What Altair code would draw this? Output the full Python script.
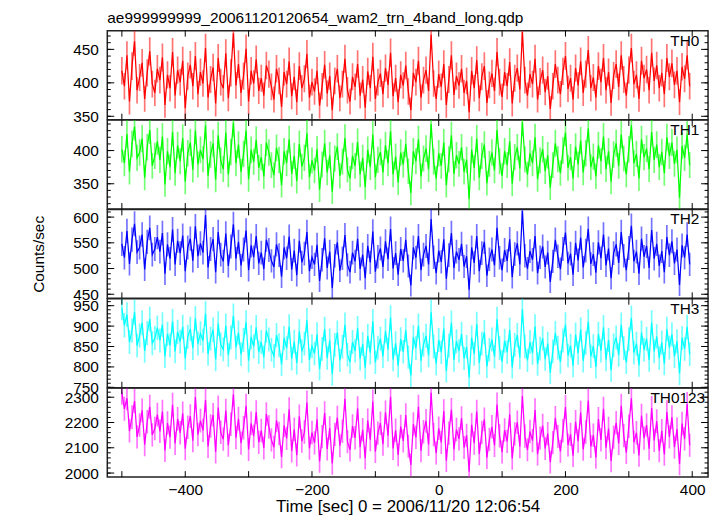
import altair as alt
import pandas as pd
import numpy as np

# ---------------- data (4 s bins) ----------------
time_start = -500
bin_size = 4

th0 = [
    418, 395, 441, 372, 425, 462, 389, 408, 430, 376, 415, 447, 398, 385, 421,
    404, 438, 367, 412, 392, 446, 381, 419, 401, 433, 362, 410, 427, 395, 440,
    383, 416, 399, 452, 378, 405, 423, 369, 437, 401, 392, 444, 377, 415, 474,
    396, 428, 385, 410, 451, 372, 418, 399, 435, 388, 407, 381, 426, 413, 394,
    375, 421, 403, 364, 416, 398, 432, 380, 409, 371, 425, 392, 406, 443, 378,
    401, 387, 418, 366, 395, 427, 384, 410, 359, 403, 421, 377, 398, 436, 389,
    372, 409, 394, 428, 381, 405, 363, 417, 392, 439, 376, 401, 414, 383, 422,
    397, 445, 380, 407, 371, 412, 396, 426, 387, 359, 415, 401, 433, 378, 404,
    419, 388, 472, 399, 376, 413, 394, 428, 367, 405, 441, 382, 410, 396, 421,
    385, 403, 356, 418, 392, 434, 377, 409, 425, 370, 397, 414, 388, 446, 401,
    379, 416, 395, 431, 369, 407, 422, 390, 476, 404, 381, 413, 398, 436, 375,
    402, 419, 386, 410, 361, 395, 428, 404, 383, 417, 440, 391, 407, 375, 422,
    396, 432, 385, 413, 449, 392, 408, 378, 425, 401, 437, 389, 416, 370, 411,
    428, 394, 441, 405, 381, 419, 452, 398, 412, 376, 433, 407, 420, 389, 445,
    403, 426, 392, 415, 383, 437, 409, 429, 397, 418, 371, 424, 406, 441, 395,
]

th1 = [
    402, 381, 425, 368, 410, 436, 389, 397, 418, 359, 405, 431, 377, 392, 414,
    386, 421, 349, 399, 375, 428, 366, 408, 384, 419, 353, 396, 412, 371, 430,
    379, 401, 387, 438, 362, 394, 411, 356, 423, 385, 372, 427, 364, 398, 442,
    381, 409, 368, 395, 430, 357, 401, 383, 416, 374, 390, 361, 412, 397, 378,
    363, 404, 386, 348, 399, 381, 417, 365, 392, 354, 410, 376, 389, 426, 360,
    385, 370, 402, 341, 379, 411, 367, 393, 338, 388, 406, 362, 383, 419, 371,
    358, 392, 377, 413, 364, 389, 345, 401, 375, 424, 360, 386, 398, 367, 408,
    381, 429, 364, 391, 352, 397, 379, 410, 369, 336, 399, 384, 417, 361, 388,
    403, 372, 440, 383, 358, 396, 377, 412, 348, 387, 423, 365, 393, 380, 405,
    368, 386, 327, 401, 374, 418, 359, 392, 409, 351, 380, 397, 370, 431, 384,
    362, 399, 378, 414, 350, 390, 405, 373, 443, 387, 364, 396, 381, 420, 357,
    385, 402, 369, 393, 344, 378, 411, 387, 366, 400, 427, 374, 390, 358, 406,
    379, 415, 367, 396, 433, 375, 391, 361, 408, 384, 421, 372, 399, 353, 394,
    411, 377, 424, 388, 364, 402, 438, 381, 395, 358, 417, 390, 403, 372, 428,
    386, 409, 375, 398, 366, 420, 392, 412, 380, 401, 329, 407, 389, 424, 378,
]

th2 = [
    548, 521, 573, 509, 556, 587, 532, 541, 566, 498, 552, 579, 527, 538, 561,
    533, 569, 490, 547, 519, 576, 508, 554, 530, 564, 495, 541, 558, 515, 582,
    524, 549, 531, 604, 502, 538, 557, 493, 571, 527, 514, 568, 505, 543, 586,
    519, 552, 506, 537, 574, 497, 545, 522, 563, 510, 531, 499, 556, 536, 515,
    503, 547, 526, 484, 541, 520, 562, 498, 535, 487, 554, 512, 529, 571, 495,
    522, 508, 546, 476, 517, 559, 501, 533, 462, 525, 551, 496, 520, 565, 507,
    493, 531, 514, 558, 499, 527, 481, 544, 512, 572, 494, 523, 539, 503, 553,
    518, 577, 500, 530, 488, 538, 515, 556, 505, 467, 541, 521, 563, 497, 527,
    544, 508, 596, 522, 491, 535, 513, 557, 480, 526, 569, 501, 533, 517, 548,
    504, 524, 459, 541, 511, 563, 495, 530, 552, 486, 518, 537, 506, 579, 521,
    497, 536, 515, 557, 483, 528, 549, 508, 612, 525, 500, 534, 517, 563, 491,
    522, 543, 503, 531, 474, 514, 556, 524, 499, 538, 570, 510, 529, 488, 550,
    516, 560, 502, 535, 577, 509, 528, 492, 551, 520, 566, 506, 539, 481, 530,
    547, 511, 571, 525, 497, 540, 583, 514, 533, 490, 558, 523, 544, 501, 575,
    519, 548, 505, 534, 493, 561, 526, 553, 510, 537, 468, 545, 521, 566, 508,
]

th3 = [
    945, 902, 928, 861, 889, 934, 852, 877, 908, 839, 883, 917, 858, 871, 896,
    865, 904, 826, 881, 853, 912, 838, 886, 862, 898, 821, 874, 893, 846, 919,
    857, 882, 864, 931, 832, 869, 891, 818, 906, 855, 843, 901, 829, 872, 925,
    848, 884, 831, 866, 909, 815, 873, 850, 897, 836, 861, 824, 889, 867, 842,
    827, 878, 853, 806, 871, 846, 899, 820, 862, 809, 887, 838, 857, 914, 817,
    851, 833, 880, 795, 844, 893, 822, 865, 782, 854, 884, 816, 849, 903, 830,
    812, 861, 839, 895, 820, 856, 798, 876, 835, 912, 811, 847, 869, 826, 888,
    843, 921, 818, 858, 803, 868, 837, 890, 824, 779, 873, 846, 901, 815, 855,
    876, 828, 934, 850, 808, 866, 836, 894, 790, 852, 908, 817, 863, 839, 881,
    821, 849, 774, 872, 832, 905, 810, 857, 885, 801, 842, 867, 825, 917, 846,
    813, 864, 836, 891, 799, 854, 878, 823, 941, 850, 816, 861, 834, 899, 807,
    845, 870, 819, 857, 786, 838, 883, 847, 812, 865, 904, 828, 852, 803, 879,
    834, 892, 815, 859, 911, 826, 851, 800, 881, 840, 897, 818, 866, 792, 853,
    872, 829, 903, 846, 811, 868, 920, 835, 857, 804, 884, 842, 869, 817, 909,
    838, 875, 822, 860, 808, 893, 847, 880, 826, 863, 784, 871, 844, 898, 831,
]

th0123 = [
    2318, 2254, 2296, 2167, 2221, 2285, 2143, 2190, 2248, 2112, 2203, 2262, 2151, 2176, 2231,
    2165, 2243, 2089, 2198, 2142, 2270, 2117, 2214, 2159, 2236, 2096, 2181, 2225, 2128, 2301,
    2152, 2207, 2169, 2289, 2105, 2186, 2230, 2083, 2259, 2161, 2134, 2247, 2110, 2193, 2312,
    2140, 2215, 2118, 2179, 2266, 2093, 2197, 2146, 2241, 2121, 2168, 2099, 2233, 2182, 2131,
    2102, 2208, 2157, 2064, 2189, 2137, 2252, 2087, 2173, 2071, 2224, 2126, 2162, 2279, 2098,
    2160, 2119, 2213, 2046, 2144, 2237, 2095, 2178, 2038, 2153, 2219, 2108, 2165, 2294, 2124,
    2091, 2186, 2139, 2256, 2103, 2171, 2059, 2208, 2132, 2283, 2085, 2158, 2197, 2114, 2240,
    2148, 2302, 2097, 2169, 2072, 2184, 2127, 2229, 2106, 2032, 2194, 2141, 2262, 2088, 2163,
    2206, 2113, 2318, 2152, 2079, 2177, 2121, 2245, 2049, 2158, 2250, 2094, 2172, 2135, 2217,
    2101, 2149, 2005, 2191, 2118, 2243, 2076, 2160, 2212, 2061, 2133, 2183, 2109, 2271, 2147,
    2083, 2170, 2125, 2232, 2058, 2155, 2201, 2104, 2305, 2146, 2092, 2164, 2128, 2249, 2075,
    2138, 2188, 2097, 2156, 2043, 2120, 2218, 2145, 2086, 2167, 2261, 2111, 2153, 2069, 2203,
    2126, 2239, 2094, 2162, 2287, 2105, 2150, 2062, 2214, 2131, 2254, 2100, 2176, 2048, 2142,
    2199, 2117, 2266, 2148, 2081, 2185, 2296, 2122, 2159, 2070, 2227, 2138, 2190, 2096, 2257,
    2129, 2205, 2088, 2167, 2074, 2241, 2143, 2221, 2102, 2174, 2036, 2196, 2135, 2273, 2110,
]

series = [th0, th1, th2, th3, th0123]
names = ["TH0", "TH1", "TH2", "TH3", "TH0123"]
colors = ["#ff0000", "#00ff00", "#0000ff", "#00ffff", "#ff00ff"]
y_domains = [[345, 478], [312, 446], [442, 615], [749, 967], [1984, 2336]]
y_labels = [[350, 400, 450], [350, 400], [450, 500, 550, 600],
            [750, 800, 850, 900, 950], [2000, 2100, 2200, 2300]]
y_minor_step = [10, 10, 10, 10, 20]
x_domain = [-523, 425]
x_tick_values = [-500, -400, -300, -200, -100, 0, 100, 200, 300, 400]
x_label_values = [-400, -200, 0, 200, 400]

main_title = "ae999999999_20061120120654_wam2_trn_4band_long.qdp"
x_title = "Time [sec] 0 = 2006/11/20 12:06:54"
y_title = "Counts/sec"

# ---------------- layout / style ----------------
W = 605
H = 89.6
FONT = "Liberation Sans"
FS = 15.5
label_x = [567, 567, 567, 567, 547]
label_y = 15

t = [time_start + bin_size * i for i in range(len(th0))]


def panel(i):
    df = pd.DataFrame({"t": t, "rate": series[i]})
    err = np.sqrt(df["rate"])
    df["lo"] = df["rate"] - err
    df["hi"] = df["rate"] + err
    col = colors[i]
    xs = alt.Scale(domain=x_domain, nice=False, zero=False)
    ys = alt.Scale(domain=y_domains[i], nice=False, zero=False)
    bottom = i == len(series) - 1

    if bottom:
        xaxis = alt.Axis(values=x_label_values, ticks=False, domain=False, grid=False,
                         format="d",
                         labelFont=FONT, labelFontSize=FS, labelColor="black",
                         labelPadding=6, labelFlush=False,
                         title=x_title, titleFont=FONT, titleFontSize=17,
                         titleFontWeight="normal", titleColor="black", titlePadding=0)
    else:
        xaxis = None
    ykw = dict(values=y_labels[i], ticks=False, domain=False, grid=False, format="d",
               labelFont=FONT, labelFontSize=FS, labelColor="black",
               labelPadding=9, labelFlush=False, labelOverlap=False)
    if i == 2:
        yaxis = alt.Axis(title=y_title, titleFont=FONT, titleFontSize=FS,
                         titleFontWeight="normal", titleColor="black",
                         titlePadding=26, **ykw)
    else:
        yaxis = alt.Axis(title=None, **ykw)

    def X(field):
        return alt.X(field, scale=xs, axis=xaxis)

    def Y(field):
        return alt.Y(field, scale=ys, axis=yaxis)

    base = alt.Chart(df)
    bars = base.mark_rule(color=col, opacity=0.55, strokeWidth=1.7, clip=True).encode(
        x=X("t:Q"), y=Y("lo:Q"), y2="hi:Q",
    )
    line = base.mark_line(color=col, strokeWidth=1.25, clip=True).encode(
        x=X("t:Q"), y=Y("rate:Q"),
    )

    d0, d1 = y_domains[i]
    st = y_minor_step[i]
    minor_vals = [v for v in range(int(np.ceil(d0 / st) * st), d1 + 1, st)]
    minor_df = pd.DataFrame({"v": minor_vals})
    major_df = pd.DataFrame({"v": y_labels[i]})
    xt_df = pd.DataFrame({"v": x_tick_values})

    layers = [bars, line]
    for d, L in ((minor_df, 3.5), (major_df, 7)):
        for xa, xb in ((0, L), (W - L, W)):
            layers.append(
                alt.Chart(d).mark_rule(color="black", strokeWidth=1).encode(
                    y=Y("v:Q"), x=alt.value(xa), x2=alt.value(xb))
            )
    for ya, yb in ((0, 6), (H - 6, H)):
        layers.append(
            alt.Chart(xt_df).mark_rule(color="black", strokeWidth=1).encode(
                x=X("v:Q"), y=alt.value(ya), y2=alt.value(yb))
        )
    layers.append(
        alt.Chart(pd.DataFrame({"label": [names[i]]})).mark_text(
            align="left", baseline="alphabetic", font=FONT, fontSize=FS, color="black"
        ).encode(x=alt.value(label_x[i]), y=alt.value(label_y), text="label:N")
    )
    props = dict(width=W, height=H)
    if i == 0:
        props["title"] = alt.TitleParams(main_title, anchor="start", frame="group",
                                         font=FONT, fontSize=FS, fontWeight="normal",
                                         color="black", offset=4)
    return alt.layer(*layers).properties(**props)


chart = alt.vconcat(*[panel(i) for i in range(len(series))], spacing=0,
                    bounds="flush").properties(
    padding={"left": 23, "top": 0, "right": 5, "bottom": 5}
).configure_view(stroke="#222222", strokeWidth=1.5)

chart.save("out.html", embed_options={"renderer": "svg", "actions": False})
